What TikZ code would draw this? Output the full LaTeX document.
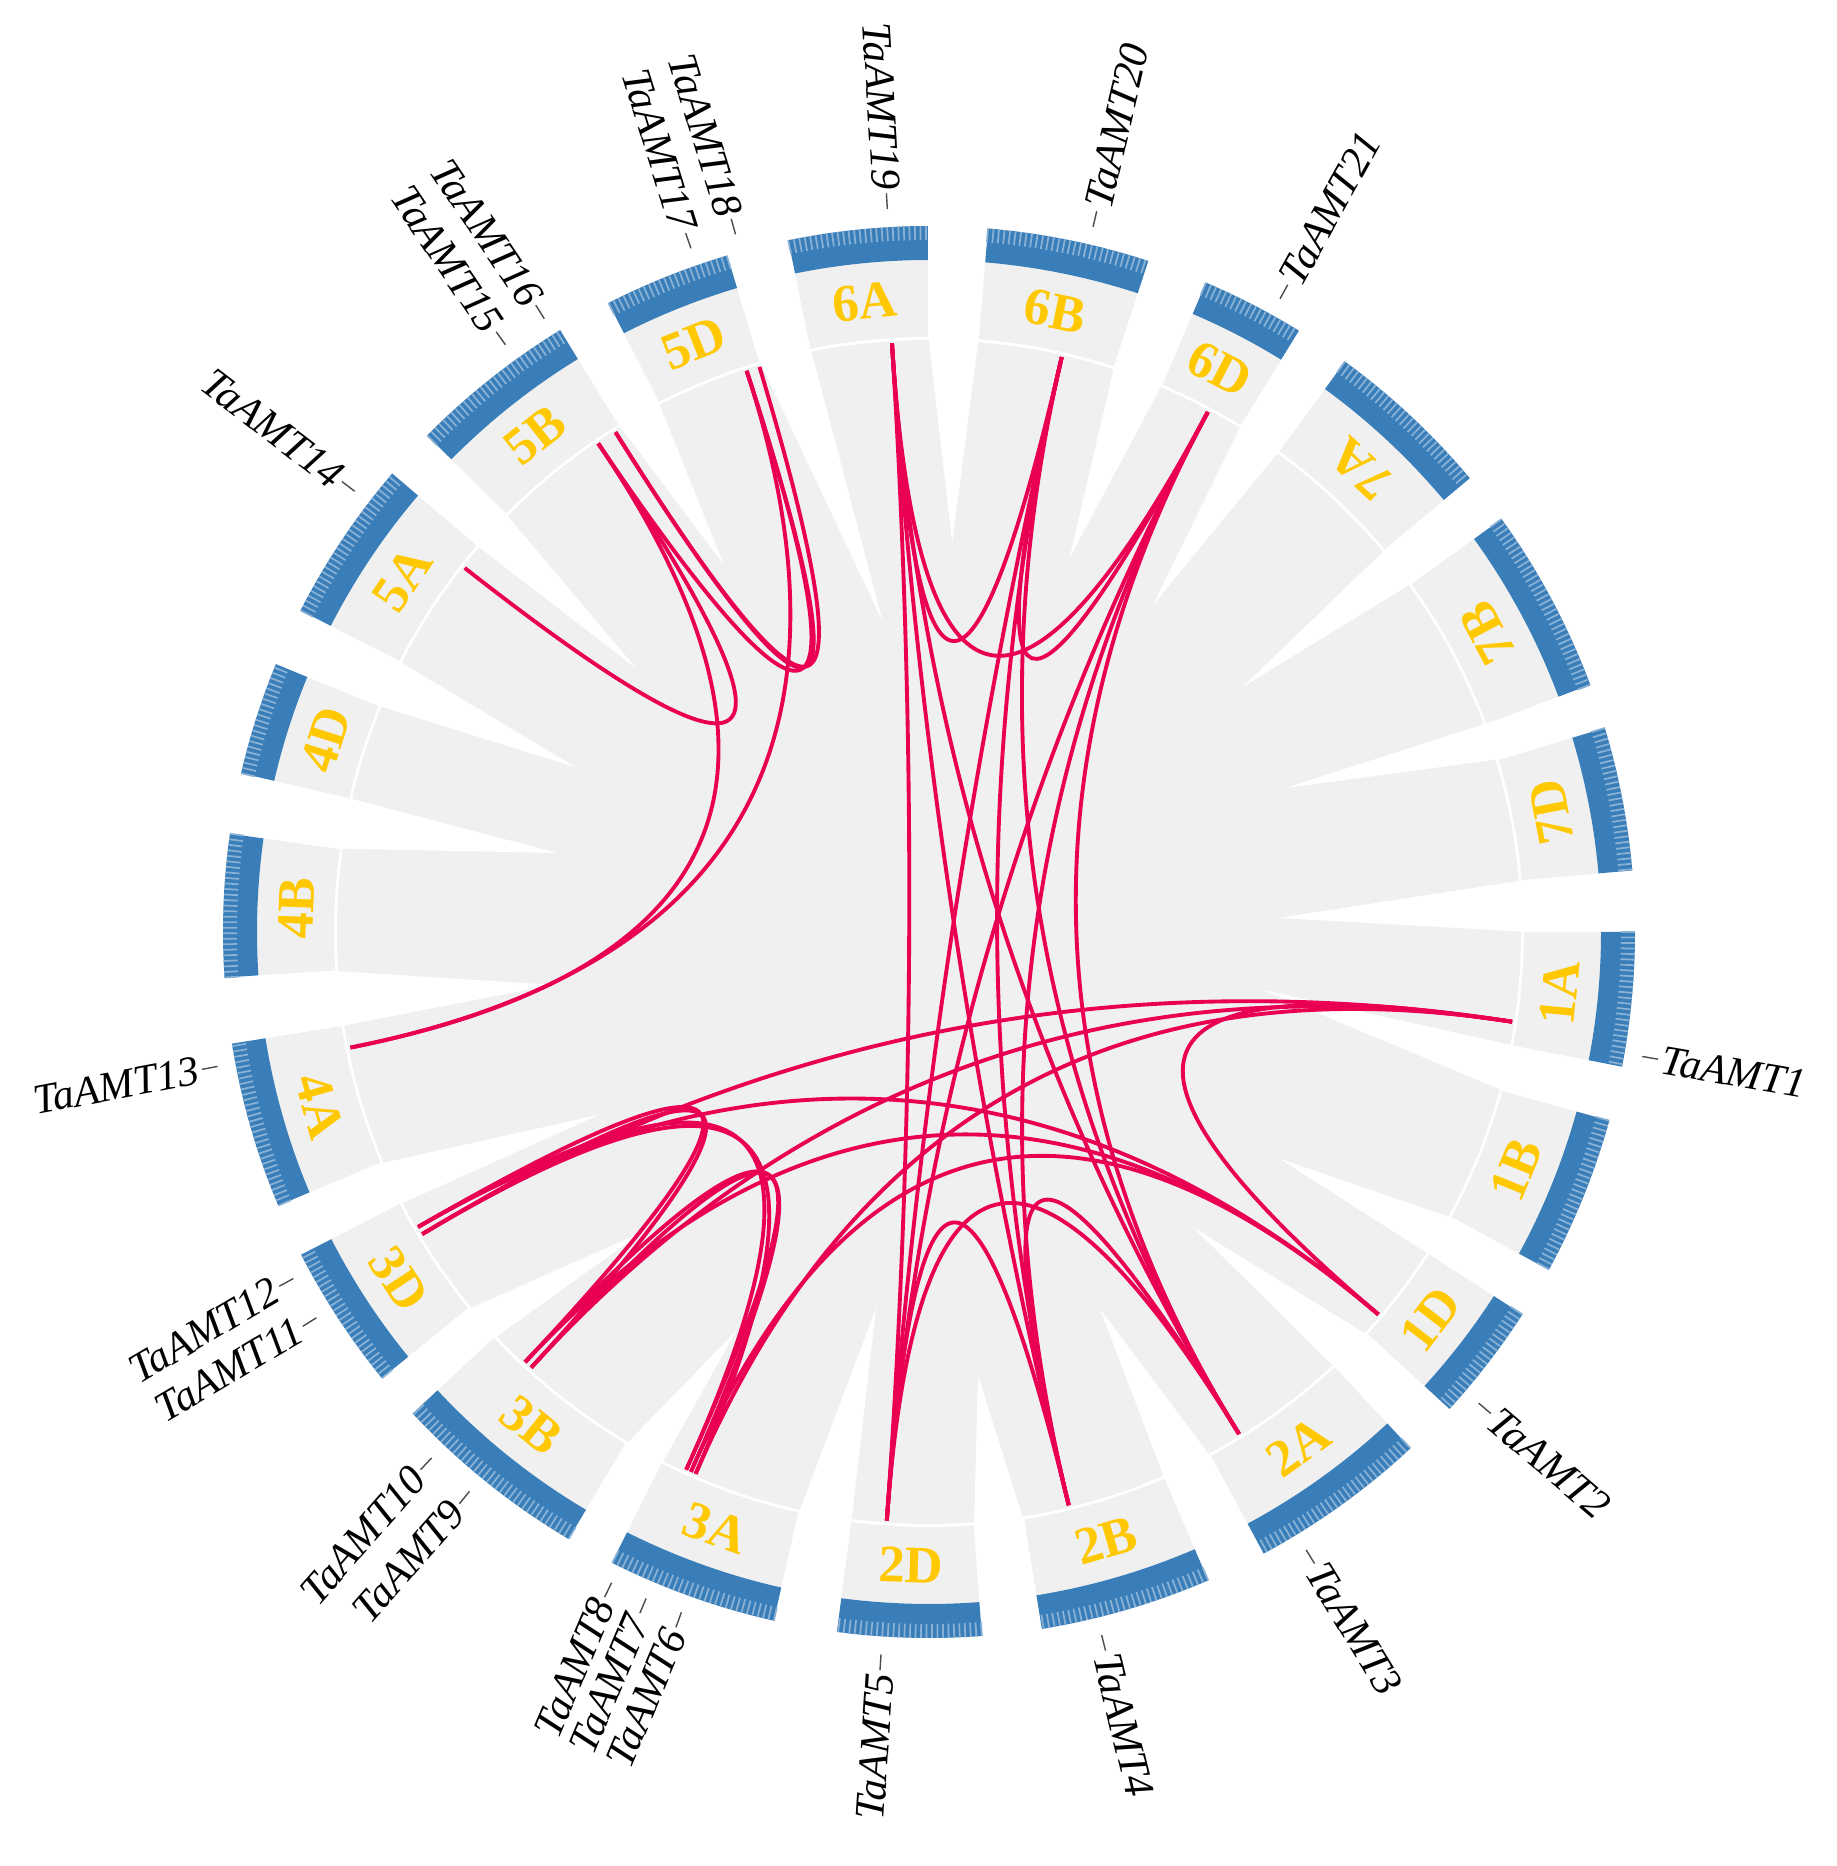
\documentclass[tikz,border=0pt]{standalone}
\usepackage{fontspec}
\setmainfont{Liberation Serif}
\definecolor{band}{RGB}{58,126,185}
\definecolor{chrgray}{RGB}{240,240,240}
\definecolor{gold}{RGB}{255,200,0}
\definecolor{linkred}{RGB}{234,0,82}
\tikzset{
  link/.style={draw=linkred, line width=1.1pt},
  chrlabel/.style={text=gold, font=\fontsize{15}{15}\selectfont\bfseries, inner sep=0pt},
  genelabel/.style={font=\fontsize{12}{12}\selectfont\itshape, inner sep=0pt},
  genetick/.style={draw=black!70, line width=0.4pt}
}
\begin{document}
\begin{tikzpicture}
\useasboundingbox (-9.29,-9.34) rectangle (9.07,9.32);

% background ribbons
\fill[chrgray] (0,0) circle (5.92);
\foreach \a/\b/\c/\r in {5/0/2.3/3.50, -11/-15.5/-9.8/3.37, -28.6/-32.8/-32.9/4.17,
  -42.5/-47/-48.2/3.96, -61.7/-66.7/-65.6/4.14, -80.8/-85.7/-83.7/4.46,
  -97.5/-102.7/-98/3.80, -116.7/-120.7/-115.8/4.43, -137/-140.8/-133.7/4.15,
  -152.8/-157.2/-151/3.77, -170.9/-176.3/-172/3.8, 172/167/168/3.8,
  157.7/152.9/155/3.9, 139.5/135.3/138/3.94, 121.5/117/119.2/4.21,
  106.6/101.5/98.5/3.14, 90.1/85.2/86.6/3.90, 71.9/66.9/69.4/3.99,
  58.4/53.9/55.6/3.96, 40/35.8/38/3.99, 20.5/16.8/22/3.84}
  \fill[white] (\a:6.0) -- (\b:6.0) -- (\c:\r) -- cycle;

% chromosomes
\foreach \n/\s/\e in {1A/0/-11, 1B/-15.5/-28.6, 1D/-32.8/-42.5, 2A/-47/-61.7,
  2B/-66.7/-80.8, 2D/-85.7/-97.5, 3A/-102.7/-116.7, 3B/-120.7/-137,
  3D/-140.8/-152.8, 4A/-157.2/-170.9, 4B/183.7/172, 4D/167/157.7,
  5A/152.9/139.5, 5B/135.3/121.5, 5D/117/106.6, 6A/101.5/90.1,
  6B/85.2/71.9, 6D/66.9/58.4, 7A/53.9/40, 7B/35.8/20.5, 7D/16.8/5} {
  \fill[chrgray] (\s:5.95) arc[start angle=\s, end angle=\e, radius=5.95]
    -- (\e:6.72) arc[start angle=\e, end angle=\s, radius=6.72] -- cycle;
  \fill[band] (\s:6.72) arc[start angle=\s, end angle=\e, radius=6.72]
    -- (\e:7.06) arc[start angle=\e, end angle=\s, radius=7.06] -- cycle;
  \pgfmathsetmacro\nxt{\s-0.45}
  \foreach \t in {\s,\nxt,...,\e}
    \draw[band!60!white, line width=0.5pt] (\t:6.92) -- (\t:7.06);
  \pgfmathsetmacro\m{(\s+\e)/2}
  \pgfmathsetmacro\rot{\m<55 ? \m+90 : \m-90}
  \node[chrlabel, rotate=\rot] (chr\n) at (\m:6.335) {\n};
}

% gene positions
\foreach \g/\a in {1/-8.75, 2/-40.4, 3/-58.3, 4/-76.3, 5/-94.1, 6/-113.3,
  7/-113.8, 8/-114.3, 9/-132.4, 10/-133.2, 11/-149.2, 12/-150.0, 13/-168.7,
  14/141.9, 15/124.1, 16/122.1, 17/108.0, 18/106.7, 19/93.6, 20/77.0, 21/61.8} {
  \coordinate (g\g) at (\a:5.90);
  \coordinate (h\g) at (\a:1.967);
}

% collinear pairs
\foreach \p/\q in {1/2, 1/11, 1/9, 1/6, 2/12, 2/10, 2/7, 8/9, 7/10, 6/11, 8/12,
  9/11, 10/12, 19/20, 20/21, 19/21, 3/4, 4/5, 3/5, 19/3, 19/4, 19/5, 20/3,
  20/4, 20/5, 21/3, 21/4, 21/5, 14/15, 15/17, 16/18, 16/17, 13/15, 13/17}
  \draw[link] (g\p) .. controls (h\p) and (h\q) .. (g\q);

% gene names
\foreach \g/\a/\rt in {1/-9.9/-9.9, 2/-40.6/-40.6, 3/-58.6/-58.6, 4/-76.2/-76.2,
  5/-93.8/86.2, 6/-110/67, 7/-113/67, 8/-116/67, 9/-129.4/48.7,
  10/-133.4/48.7, 11/-147.8/30.5, 12/-151.4/30.5, 13/-169.3/10.7, 14/142.5/-37.5,
  15/125.8/-56, 16/122.1/-56, 17/109.2/-72.7, 18/105.5/-72.7, 19/93.3/-86.7,
  20/76.9/76.9, 21/61/61} {
  \draw[genetick] (\a:7.24) -- (\a:7.40);
  \pgfmathtruncatemacro\rside{abs(\a)<90}
  \ifnum\rside=1
    \node[genelabel, anchor=west, rotate=\rt] (lab\g) at (\a:7.43) {TaAMT\g};
  \else
    \node[genelabel, anchor=east, rotate=\rt] (lab\g) at (\a:7.43) {TaAMT\g};
  \fi
}
\end{tikzpicture}
\end{document}
